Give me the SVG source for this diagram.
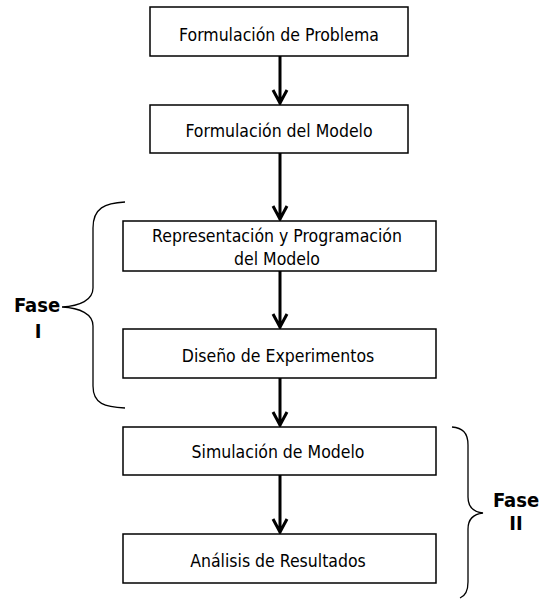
<svg xmlns="http://www.w3.org/2000/svg" width="540" height="600" viewBox="0 0 540 600">
<style>
.box{fill:#fff;stroke:#000;stroke-width:1.5}
.t{font-family:"DejaVu Sans Condensed","DejaVu Sans",sans-serif;font-stretch:condensed;font-size:17.5px;fill:#000;text-anchor:middle}
.b{font-family:"DejaVu Sans Condensed","DejaVu Sans",sans-serif;font-stretch:condensed;font-weight:bold;font-size:20px;fill:#000;text-anchor:middle}
.c{stroke:#000;stroke-width:3;fill:none}
.br{stroke:#000;stroke-width:1.3;fill:none}
</style>
<rect width="540" height="600" fill="#fff"/>
<g id="connectors">
<path class="c" d="M280,56 V104 M273,90 L280,103 L287,90"/>
<path class="c" d="M280,153 V220 M273,206 L280,219 L287,206"/>
<path class="c" d="M280,271 V328 M273,314 L280,327 L287,314"/>
<path class="c" d="M280,378 V426 M273,412 L280,425 L287,412"/>
<path class="c" d="M280,475 V533 M273,519 L280,532 L287,519"/>
</g>
<g id="n1"><rect class="box" x="150" y="7" width="258" height="49"/><text class="t" x="279" y="41">Formulación de Problema</text></g>
<g id="n2"><rect class="box" x="150" y="105" width="258" height="48"/><text class="t" x="279" y="137">Formulación del Modelo</text></g>
<g id="n3"><rect class="box" x="123" y="221" width="313" height="50"/><text class="t" x="277" y="242">Representación y Programación</text><text class="t" x="277" y="265">del Modelo</text></g>
<g id="n4"><rect class="box" x="123" y="329" width="313" height="49"/><text class="t" x="278" y="362">Diseño de Experimentos</text></g>
<g id="n5"><rect class="box" x="123" y="427" width="313" height="48"/><text class="t" x="278" y="458">Simulación de Modelo</text></g>
<g id="n6"><rect class="box" x="123" y="534" width="313" height="49"/><text class="t" x="278" y="567">Análisis de Resultados</text></g>
<g id="fase1">
<path class="br" d="M125,202 C105,203 93,208 93,228 V288 C93,300 80,306 62,307 C80,308 93,314 93,326 V386 C93,404 105,407 125,408"/>
<text class="b" x="37" y="312">Fase</text>
<text class="b" x="38" y="338">I</text>
</g>
<g id="fase2">
<path class="br" d="M452,427 C462,428 468,432 468,445 V497 C468,507 474,512 483,513 C474,514 468,519 468,529 V582 C468,592 465,596 460,598"/>
<text class="b" x="516" y="507">Fase</text>
<text class="b" x="516" y="530">II</text>
</g>
</svg>
